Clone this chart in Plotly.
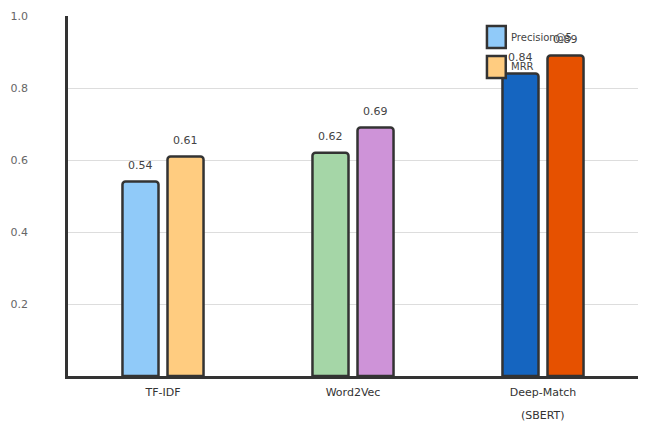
import plotly.graph_objects as go

categories = ["TF-IDF", "Word2Vec", "Deep-Match (SBERT)"]
category_line1 = ["TF-IDF", "Word2Vec", "Deep-Match"]
category_line2 = ["", "", "(SBERT)"]
precision = [0.54, 0.62, 0.84]
mrr = [0.61, 0.69, 0.89]
precision_colors = ["#90CAF9", "#A5D6A7", "#1565C0"]
mrr_colors = ["#FFCC80", "#CE93D8", "#E65100"]
series_names = ["Precision@5", "MRR"]
ytick_vals = [0.2, 0.4, 0.6, 0.8, 1.0]
ytick_text = ["0.2", "0.4", "0.6", "0.8", "1.0"]

FONT = "DejaVu Sans"
OUTLINE = "#333333"

fig = go.Figure()
for name, vals, cols in [(series_names[0], precision, precision_colors),
                         (series_names[1], mrr, mrr_colors)]:
    fig.add_trace(go.Bar(
        x=categories, y=vals, name=name,
        marker=dict(color=cols, line=dict(color=OUTLINE, width=2.5), cornerradius=3),
        showlegend=False,
    ))

# value labels
for vals, shift in [(precision, -22.5), (mrr, 22.5)]:
    for c, v in zip(categories, vals):
        fig.add_annotation(x=c, y=v, text=f"{v:.2f}", showarrow=False,
                           xshift=shift, yshift=16,
                           font=dict(family=FONT, size=11, color="#444444"))

# second line of category labels
for c, t in zip(categories, category_line2):
    if t:
        fig.add_annotation(x=c, y=0, yref="y", text=t, showarrow=False,
                           yanchor="middle", yshift=-39,
                           font=dict(family=FONT, size=11, color="#333333"))

# custom legend
legend_items = [(series_names[0], precision_colors[0], 0.972, 0.911),
                (series_names[1], mrr_colors[0], 0.889, 0.828)]
for name, col, y1, y0 in legend_items:
    fig.add_shape(type="rect", xref="paper", yref="paper",
                  x0=0.735, x1=0.768, y0=y0, y1=y1,
                  fillcolor=col, line=dict(color=OUTLINE, width=2.5))
    fig.add_annotation(xref="paper", yref="paper", x=0.773, y=(y0 + y1) / 2,
                       text=name, showarrow=False, xanchor="left", yanchor="middle",
                       font=dict(family=FONT, size=10, color="#444444"))

fig.update_layout(
    width=646, height=427,
    margin=dict(l=68, r=8, t=16, b=51),
    paper_bgcolor="white", plot_bgcolor="white",
    barmode="group", bargap=0.526, bargroupgap=0.2,
    font=dict(family=FONT, size=11, color="#333333"),
)
fig.update_xaxes(showline=True, linecolor=OUTLINE, linewidth=2.5,
                 ticks="", showgrid=False,
                 tickvals=categories, ticktext=category_line1,
                 ticklabelstandoff=4,
                 tickfont=dict(family=FONT, size=11, color="#333333"))
fig.update_yaxes(range=[0, 1.0], tickvals=ytick_vals, ticktext=ytick_text,
                 showline=True, linecolor=OUTLINE, linewidth=2.5,
                 showgrid=True, gridcolor="#DDDDDD", gridwidth=1,
                 zeroline=False, ticks="", ticklabelstandoff=35,
                 tickfont=dict(family=FONT, size=11, color="#666666"))

fig.write_html("out.html")
